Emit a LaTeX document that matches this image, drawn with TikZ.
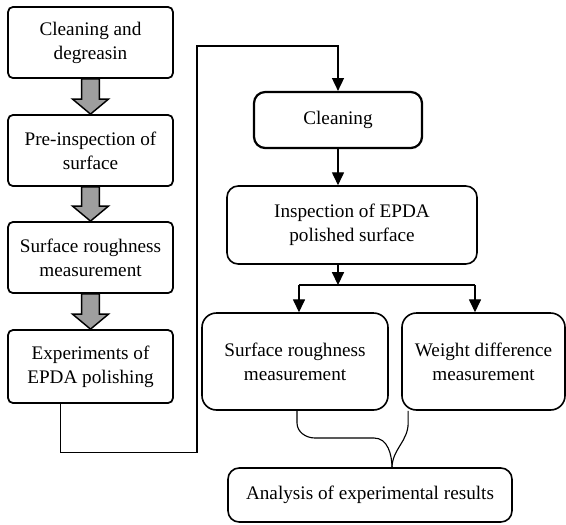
\documentclass[tikz,border=0pt]{standalone}
\usepackage{fontspec}
\setmainfont{Liberation Serif}
\usepackage[svgnames]{xcolor}
\usepackage{tikz}
\usetikzlibrary{arrows.meta}
\usetikzlibrary{calc}

\tikzset{
    leftbox/.style={draw, line width=1.1pt, rounded corners=3pt, align=center,
        minimum width=103pt, minimum height=44.4pt, font=\fontsize{12}{15}\selectfont},
    rightbox/.style={draw, line width=1pt, rounded corners=7pt, align=center,
        font=\fontsize{12}{15}\selectfont},
    flow/.style={line width=0.7pt, -{Triangle[length=8pt,width=7.5pt]}},
    plainline/.style={line width=0.7pt},
    fatarrow/.style={draw, line width=0.9pt, fill=black!38, line join=miter},
}

\begin{document}
\begin{tikzpicture}[x=0.625pt, y=-0.625pt]
            \useasboundingbox (0,0) rectangle (566,524);

            % Left column
            \node (clean1) at (90.5,42.5) [leftbox] {Cleaning and\\ degreasin};
            \node (preinsp) at (90.5,150.5) [leftbox] {Pre-inspection of\\ surface};
            \node (srough1) at (90.5,257.5) [leftbox] {Surface roughness\\ measurement};
            \node (exper) at (90.5,366.5) [leftbox, minimum height=45.6pt] {Experiments of\\ EPDA polishing};

            % Grey arrows between the left boxes
            \foreach \a/\b in {clean1/preinsp, preinsp/srough1, srough1/exper}
                \draw [fatarrow] let \p1=(\a.south), \p2=(\b.north) in
                    (\x1-5.6pt,\y1) -- (\x1+5.6pt,\y1) -- (\x1+5.6pt,\y2+9.4pt)
                    -- (\x1+11.25pt,\y2+9.4pt) -- (\x1,\y2) -- (\x1-11.25pt,\y2+9.4pt)
                    -- (\x1-5.6pt,\y2+9.4pt) -- cycle;

            % Right column
            \node (clean2) at (338,120) [rightbox, line width=1.4pt, minimum width=105pt, minimum height=35pt] {Cleaning};
            \node (inspect) at (352,225) [rightbox, minimum width=156.25pt, minimum height=48.75pt] {Inspection of EPDA\\ polished surface};
            \node (srough2) at (295,361.5) [rightbox, rounded corners=9pt, minimum width=116.25pt, minimum height=60.6pt] {Surface roughness\\ measurement};
            \node (weight) at (483.5,361.5) [rightbox, rounded corners=9pt, minimum width=101.9pt, minimum height=60.6pt] {Weight difference\\ measurement};
            \node (analysis) at (370,495) [rightbox, minimum width=177.5pt, minimum height=33.75pt] {Analysis of experimental results};

            % Loop from the left column to the right column
            \coordinate (bend) at (197,46);
            \draw [flow] ($(exper.south)+(-30,0)$) -- ++(0,49) -| (bend) -| (clean2.north);

            % Straight arrows
            \draw [flow] (clean2.south) -- (clean2.south |- inspect.north);
            \coordinate (fork) at (338,285);
            \coordinate (forkl) at (299,285);
            \coordinate (forkr) at (475,285);
            \draw [flow] (inspect.south -| fork) -- (fork);
            \draw [plainline] (forkl) -- (forkr);
            \draw [flow] (forkl) -- (forkl |- srough2.north);
            \draw [flow] (forkr) -- (forkr |- weight.north);

            % Brace into the analysis box
            \coordinate (tip) at (392,468);
            \draw [plainline] ($(srough2.south)+(2,0)$) -- ++(0,12)
                to [out=-90, in=180] (315,438) -- (374,438) to [out=0, in=90] (tip);
            \draw [plainline] ($(weight.south west)+(7,0)$) -- ++(0,12)
                to [out=-90, in=90] (tip);
\end{tikzpicture}
\end{document}
